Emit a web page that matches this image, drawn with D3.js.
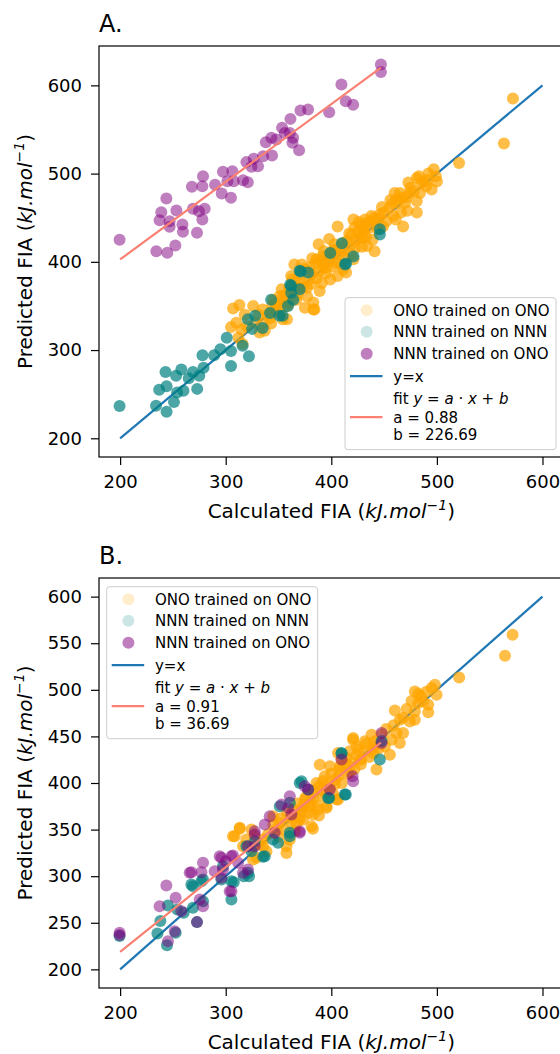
<!DOCTYPE html>
<html>
<head>
<meta charset="utf-8">
<script src="https://cdn.jsdelivr.net/npm/d3@7"></script>
<style>
  body { margin: 0; background: #fff; }
  svg { display: block; font-family: 'DejaVu Sans', sans-serif; }
</style>
</head>
<body>
<svg id="chart" width="560" height="1054"></svg>
<script>
// Tick values and labels
var xTicks = [200, 300, 400, 500, 600];
var yTicksA = [200, 300, 400, 500, 600];
var yTicksB = [200, 250, 300, 350, 400, 450, 500, 550, 600];
var seriesLabels = ['ONO trained on ONO', 'NNN trained on NNN', 'NNN trained on ONO'];
var panelTitles = ['A.', 'B.'];

// Linear fits (slope, intercept) and the x range they cover
var fitSlopes = [0.88, 0.91];
var fitIntercepts = [226.69, 36.69];
var fitRange = [200, 447];
var identityRange = [200, 600];

// Panel A: [calculated, predicted]
var onoA = [
  [572, 585], [563.5, 534], [521, 512], [497, 505], [499, 497], [500, 491], [481, 495], [487, 491],
  [490, 486], [495, 482], [484, 478], [474, 478], [460, 478], [471, 473], [463, 467], [481, 469],
  [481, 456], [466, 456], [459, 452], [468, 440], [446, 454], [441, 450], [437, 446], [432, 448],
  [421, 448], [422, 439], [430, 437], [406, 440], [427, 427], [434, 418], [441, 412], [398, 426],
  [388, 420], [403, 414], [392, 407], [386, 403], [406, 384], [389, 367], [383, 354], [383, 346],
  [372, 397], [365, 397], [395, 393], [399, 380], [391, 376], [377, 361], [358, 350], [358, 335],
  [375, 348], [414, 388], [307, 347], [313, 351], [326, 350], [335, 346], [315, 323], [316, 307],
  [312, 314], [332, 320], [337, 322], [345, 357], [354, 335], [351, 361], [367, 357], [373, 371],
  [384, 346], [411, 391], [421, 403], [362, 384], [340, 340], [348, 352], [355, 362], [360, 370],
  [366, 378], [370, 386], [376, 391], [380, 394], [385, 399], [390, 401], [396, 406], [400, 411],
  [405, 414], [411, 421], [415, 424], [419, 431], [425, 434], [428, 441], [433, 444], [436, 439],
  [440, 446], [445, 449], [450, 456], [455, 461], [458, 466], [462, 471], [467, 473], [470, 467],
  [475, 484], [478, 480], [485, 489], [491, 493], [345, 344], [350, 349], [357, 361], [364, 366],
  [372, 376], [378, 379], [382, 386], [388, 389], [393, 398], [398, 401], [402, 406], [408, 409],
  [412, 413], [418, 419], [424, 425], [430, 427], [342, 336], [352, 341], [360, 353], [368, 363],
  [377, 371], [386, 381], [395, 387], [404, 399], [413, 404], [423, 416], [433, 428], [444, 437],
  [452, 446], [336, 331], [328, 331], [320, 327], [310, 331], [305, 326], [318, 340], [331, 340],
  [417, 432], [426, 445], [438, 452], [448, 462], [456, 470], [465, 478], [473, 490], [483, 497],
  [492, 500], [403, 420], [393, 412], [382, 404], [374, 392], [363, 380], [353, 369], [344, 350],
  [409, 397], [419, 408], [429, 417], [439, 425], [449, 440], [461, 448], [472, 458], [343, 330],
  [349, 346], [356, 355], [369, 371], [381, 375], [392, 393], [401, 395], [410, 415], [431, 433]
];
var nnnA = [
  [199.5, 236.6], [244, 230], [234, 237], [237, 255], [244, 259], [243, 275], [253, 271], [251, 241],
  [254, 252], [260, 254], [258, 278], [269, 275], [273, 256], [275, 271], [279, 280], [278, 294],
  [289, 294], [295, 301], [305, 299], [301, 314], [305, 282], [322, 293], [316, 305], [321, 335],
  [328, 339], [335, 325], [325, 324], [342, 342], [343, 357], [351, 339], [361, 374], [362, 365],
  [364, 357], [370, 390], [378, 388], [399, 410], [414, 398], [421, 406], [446, 437], [446, 431],
  [410, 421], [413, 397], [371, 389], [362, 373], [370, 369], [359, 350], [354, 339], [265, 268]
];
var nnnOnoA = [
  [199.5, 425], [447, 623.5], [447, 615], [409.6, 601], [413.7, 582], [420.7, 578], [398, 569.5],
  [370.8, 571.5], [378, 572.6], [361.3, 562], [353.4, 552], [360.7, 546], [363.8, 540.5], [363.2, 535],
  [369.5, 526.5], [343.3, 540.5], [338, 535.6], [348, 538.6], [343.9, 520.5], [335.4, 519.7],
  [326.5, 516.8], [319.6, 513], [324.4, 507.7], [330.6, 508.4], [297.4, 502], [306.3, 502.7],
  [301.6, 491.4], [307.6, 491.4], [316.4, 492.5], [320.9, 490.3], [278.5, 497], [277.9, 485.7],
  [268, 485], [289.9, 487.3], [296.2, 477.5], [305, 472.6], [243.8, 471.8], [253.3, 458.2],
  [239, 456.3], [237.4, 447.2], [246.9, 439.7], [259, 442.4], [259.5, 434.1], [272.8, 433],
  [269, 460.1], [280.1, 460.1], [274.7, 457.4], [277.9, 448], [234.3, 412.1], [244.7, 410.3],
  [252.3, 418.6], [246.9, 446.1], [356, 546]
];

// Panel B: [calculated, predicted]
var onoB = [
  [571.7, 559], [564.5, 536.5], [521.1, 513.3], [498.1, 505.5], [495, 501.9], [479.1, 498.3],
  [482.3, 495.8], [499.7, 494.7], [487, 487.6], [482.3, 485.8], [491.8, 484], [460.2, 477.9],
  [471.3, 479.4], [479.1, 476.8], [491.8, 475.8], [479.1, 468], [474.4, 466.1], [464.9, 468],
  [461.8, 453.7], [468, 453.7], [464.9, 443], [457.1, 446.5], [447.6, 451.9], [438.1, 451.9],
  [441.2, 444.7], [431.8, 444.7], [420.7, 448.3], [423.9, 439.3], [431.8, 434], [439.6, 432.3],
  [450.7, 439.3], [455.5, 430.4], [417.5, 434], [406.4, 432.3], [409.7, 425.1], [389.1, 419.7],
  [398.6, 417.9], [427, 425.1], [420.7, 446.5], [439.6, 435.8], [442.8, 414.4], [428.6, 425.1],
  [414.4, 426.9], [408.1, 417.9], [393.8, 407.2], [403.3, 398.3], [386, 400.1], [381.2, 387.6],
  [392.2, 385.7], [405, 382.2], [395.5, 375], [387.5, 371.5], [382.7, 366.1], [374.9, 382.2],
  [371.8, 371.5], [370.1, 360.8], [381.2, 353.6], [365.4, 348.2], [360.7, 339.3], [357.5, 332.2],
  [351.2, 357.2], [344.8, 364.3], [348, 350], [335.4, 339.3], [327.5, 342.9], [324.4, 350],
  [319.6, 339.3], [316.4, 332.2], [338.6, 326.8], [329.1, 319.7], [308.5, 342.9], [313.3, 351.9],
  [357.5, 325], [306.9, 342.9], [313.3, 350.8], [382.7, 350.8], [388.4, 365], [395.5, 373.3],
  [406.4, 382.2], [373.3, 360.8], [379.6, 375], [325.9, 317.9], [335.4, 332.2],
  [345, 355], [352, 362], [358, 368], [364, 372], [368, 378], [372, 370], [376, 385], [380, 378],
  [384, 392], [388, 396], [392, 402], [396, 398], [400, 410], [404, 404], [408, 415], [412, 418],
  [416, 410], [420, 422], [424, 430], [428, 420], [350, 342], [355, 350], [362, 358], [370, 364],
  [378, 368], [386, 376], [394, 390], [402, 388], [410, 400], [418, 412], [426, 436], [433, 442],
  [440, 440], [332, 335], [340, 345], [325, 330], [374, 377], [383, 383], [391, 393], [399, 395],
  [407, 408], [415, 420], [422, 415], [436, 428], [445, 437], [452, 458], [459, 462], [468, 470],
  [476, 488], [485, 493], [490, 498], [361, 363], [367, 356]
];
var nnnB = [
  [199.5, 235.7], [244.4, 226], [235.3, 238.6], [238.1, 251.8], [245.3, 268.6], [254.2, 264.3],
  [252.6, 239.3], [260.2, 260.8], [269, 266.1], [269, 289.3], [272.8, 250.7], [278.5, 273.2],
  [278.5, 296.5], [295.9, 296.5], [305.4, 275], [307.6, 293.6], [317.1, 300], [322.1, 300],
  [335.4, 320.8], [324.4, 326.8], [349.6, 335.8], [360.7, 342.9], [360.7, 378.7], [370.1, 400.1],
  [378, 392.9], [398, 384], [413.7, 387.6], [409.7, 432.3], [397, 384], [412.8, 387.6],
  [371.8, 401.8], [360.7, 346.5], [351.2, 375], [344.8, 339.3], [337, 321.5], [327.5, 337.5],
  [319.6, 332.2], [297.4, 310.7], [305.4, 294.6], [321.1, 303.6], [267.5, 291.1], [277, 294.6],
  [409.7, 431.5], [446, 425.1], [447.6, 445]
];
var nnnOnoB = [
  [199.5, 239.3], [199.5, 237], [243.8, 290], [237.4, 267.8], [245.3, 230.3], [252.6, 276.8],
  [258, 262.5], [251.7, 241], [267.5, 304.3], [278.5, 314.4], [277, 304.3], [275.4, 275],
  [278.5, 267.8], [272.8, 250.7], [289.6, 305.4], [295.9, 319.7], [300, 316.1], [306.9, 322.2],
  [305.4, 283.9], [295.9, 298.3], [321.1, 307.2], [321.1, 332.2], [327.5, 344.7], [337, 355.4],
  [341.7, 364.3], [352.8, 376.8], [360.7, 385.7], [362.3, 366.1], [370.1, 348.2], [378, 392.9],
  [398.6, 392.9], [420.7, 401.8], [420.1, 407.2], [409.7, 425.1], [374.9, 396.5], [359.1, 373.3],
  [327.5, 348.2], [327.5, 332.2], [346.4, 346.5], [370.1, 346.5], [311.7, 314.4], [305.4, 321.5],
  [294.3, 321.5], [297.4, 307.2], [265.9, 303.6], [303.8, 283.9], [316.4, 303.6],
  [447.6, 453.7], [447.6, 443]
];

// Colors
var onoColor = 'orange', nnnColor = 'teal', crossColor = 'purple';
var identityColor = '#1f77b4', fitColor = 'salmon';

var svg = d3.select('#chart');

// Axes frame geometry shared by both panels
var frameLeft = 99, frameRight = 563.6;
var panels = [
  { top: 46, bottom: 457, yDomain: [178.8, 644.6], yTicks: yTicksA,
    ono: onoA, nnn: nnnA, cross: nnnOnoA, legendX: 345, legendY: 297.7 },
  { top: 578, bottom: 988, yDomain: [180, 620], yTicks: yTicksB,
    ono: onoB, nnn: nnnB, cross: nnnOnoB, legendX: 106.7, legendY: 586.7 }
];

// Draws the label "(kJ.mol^-1)" style math text into a text element
var addUnitText = function(sel, prefix) {
  sel.append('tspan').text(prefix + ' (');
  sel.append('tspan').style('font-style', 'italic').text('kJ.mol');
  sel.append('tspan').style('font-style', 'italic').attr('font-size', '0.7em').attr('dy', '-0.55em').text('\u22121');
  sel.append('tspan').attr('dy', '0.385em').text(')');
};

panels.forEach(function(p, i) {
  var g = svg.append('g');

  var x = d3.scaleLinear().domain([180, 620]).range([frameLeft, frameRight]);
  var y = d3.scaleLinear().domain(p.yDomain).range([p.bottom, p.top]);

  // Title
  g.append('text')
    .attr('x', frameLeft).attr('y', p.top - 14)
    .style('font-size', '24px')
    .text(panelTitles[i]);

  // y = x line (underneath the points)
  g.append('line')
    .attr('x1', x(identityRange[0])).attr('y1', y(identityRange[0]))
    .attr('x2', x(identityRange[1])).attr('y2', y(identityRange[1]))
    .style('stroke', identityColor).style('stroke-width', 2.2);

  // Scatter series
  var drawPoints = function(data, color, alpha) {
    g.append('g').selectAll('circle').data(data)
      .enter().append('circle')
      .attr('cx', function(d) { return x(d[0]); })
      .attr('cy', function(d) { return y(d[1]); })
      .attr('r', 6)
      .style('fill', color)
      .style('fill-opacity', alpha);
  };
  drawPoints(p.ono, onoColor, 0.72);
  drawPoints(p.nnn, nnnColor, 0.7);
  drawPoints(p.cross, crossColor, 0.5);

  // Fit line over the points
  var a = fitSlopes[i], b = fitIntercepts[i];
  g.append('line')
    .attr('x1', x(fitRange[0])).attr('y1', y(a * fitRange[0] + b))
    .attr('x2', x(fitRange[1])).attr('y2', y(a * fitRange[1] + b))
    .style('stroke', fitColor).style('stroke-width', 2.2);

  // Axes
  var xAxis = g.append('g')
    .attr('transform', 'translate(0,' + p.bottom + ')')
    .call(d3.axisBottom(x).tickValues(xTicks).tickSize(8).tickPadding(10).tickFormat(d3.format('d')));
  var yAxis = g.append('g')
    .attr('transform', 'translate(' + frameLeft + ',0)')
    .call(d3.axisLeft(y).tickValues(p.yTicks).tickSize(8).tickPadding(9).tickFormat(d3.format('d')));
  [xAxis, yAxis].forEach(function(ax) {
    ax.select('.domain').remove();
    ax.selectAll('line').style('stroke', '#000').style('stroke-width', 1.2);
    ax.selectAll('text').style('font-size', '18px').style('fill', '#000')
      .style('font-family', "'DejaVu Sans', sans-serif");
  });

  // Frame
  g.append('rect')
    .attr('x', frameLeft).attr('y', p.top)
    .attr('width', frameRight - frameLeft).attr('height', p.bottom - p.top)
    .style('fill', 'none').style('stroke', '#000').style('stroke-width', 1.2);

  // Axis labels
  var xl = g.append('text')
    .attr('x', (frameLeft + frameRight) / 2).attr('y', p.bottom + 61)
    .style('text-anchor', 'middle').style('font-size', '20px');
  addUnitText(xl, 'Calculated FIA');
  var yl = g.append('text')
    .attr('transform', 'translate(32,' + ((p.top + p.bottom) / 2) + ') rotate(-90)')
    .style('text-anchor', 'middle').style('font-size', '20px');
  addUnitText(yl, 'Predicted FIA');

  // Legend
  var lg = g.append('g').attr('transform', 'translate(' + p.legendX + ',' + p.legendY + ')');
  lg.append('rect')
    .attr('width', 211).attr('height', 152).attr('rx', 3)
    .style('fill', '#fff').style('fill-opacity', 0.8)
    .style('stroke', '#ccc').style('stroke-width', 1);
  var rows = [12.5, 34, 56, 78.5, 100.5, 119.5, 137];
  var markerColors = [onoColor, nnnColor, crossColor];
  var markerAlphas = [0.2, 0.2, 0.5];
  seriesLabels.forEach(function(label, k) {
    lg.append('circle').attr('cx', 21.7).attr('cy', rows[k]).attr('r', 6)
      .style('fill', markerColors[k]).style('fill-opacity', markerAlphas[k]);
    lg.append('text').attr('x', 48.3).attr('y', rows[k]).attr('dy', '0.36em')
      .style('font-size', '15px').text(label);
  });
  lg.append('line').attr('x1', 5).attr('x2', 37.5).attr('y1', rows[3]).attr('y2', rows[3])
    .style('stroke', identityColor).style('stroke-width', 2.2);
  lg.append('text').attr('x', 48.3).attr('y', rows[3]).attr('dy', '0.36em')
    .style('font-size', '15px').text('y=x');
  var ft = lg.append('text').attr('x', 48.3).attr('y', rows[4]).attr('dy', '0.36em')
    .style('font-size', '15px');
  ft.append('tspan').text('fit ');
  ft.append('tspan').style('font-style', 'italic').text('y');
  ft.append('tspan').text(' = ');
  ft.append('tspan').style('font-style', 'italic').text('a');
  ft.append('tspan').text(' \u00b7 ');
  ft.append('tspan').style('font-style', 'italic').text('x');
  ft.append('tspan').text(' + ');
  ft.append('tspan').style('font-style', 'italic').text('b');
  lg.append('line').attr('x1', 5).attr('x2', 37.5).attr('y1', rows[5]).attr('y2', rows[5])
    .style('stroke', fitColor).style('stroke-width', 2.2);
  lg.append('text').attr('x', 48.3).attr('y', rows[5]).attr('dy', '0.36em')
    .style('font-size', '15px').text('a = ' + a.toFixed(2));
  lg.append('text').attr('x', 48.3).attr('y', rows[6]).attr('dy', '0.36em')
    .style('font-size', '15px').text('b = ' + b.toFixed(2));
});
</script>
</body>
</html>
